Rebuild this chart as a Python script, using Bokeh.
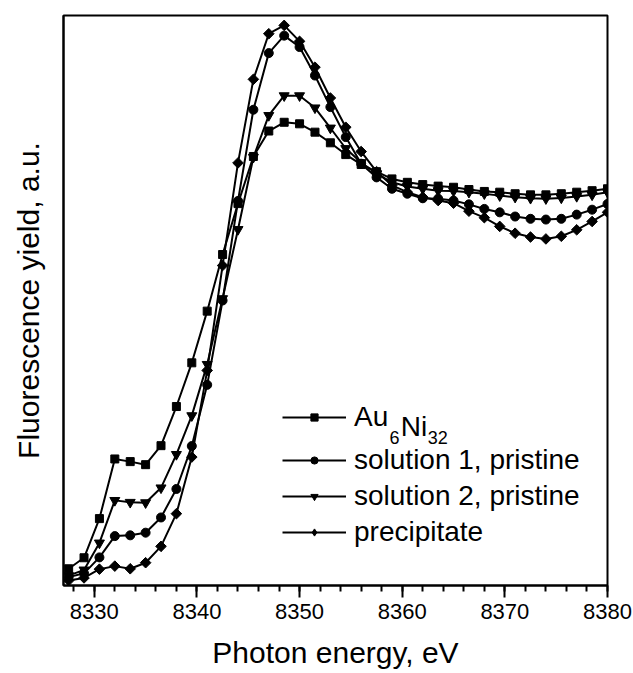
import math
from bokeh.plotting import figure
from bokeh.models import (ColumnDataSource, Range1d, FixedTicker, Legend, LegendItem, Label)
from bokeh.embed import file_html
from bokeh.resources import INLINE

energy = [8327.5, 8329.0, 8330.5, 8332.0, 8333.5, 8335.0, 8336.5, 8338.0, 8339.5, 8341.0,
          8342.5, 8344.0, 8345.5, 8347.0, 8348.5, 8350.0, 8351.5, 8353.0, 8354.5, 8356.0,
          8357.5, 8359.0, 8360.5, 8362.0, 8363.5, 8365.0, 8366.5, 8368.0, 8369.5, 8371.0,
          8372.5, 8374.0, 8375.5, 8377.0, 8378.5, 8380.0]

au6ni32 = [0.044, 0.073, 0.176, 0.333, 0.326, 0.318, 0.368, 0.471, 0.586, 0.722,
           0.871, 1.005, 1.129, 1.196, 1.219, 1.215, 1.193, 1.165, 1.134, 1.108,
           1.089, 1.070, 1.061, 1.055, 1.051, 1.048, 1.042, 1.037, 1.035, 1.031,
           1.028, 1.028, 1.031, 1.035, 1.039, 1.044]

solution1 = [0.022, 0.032, 0.074, 0.130, 0.132, 0.139, 0.179, 0.254, 0.367, 0.528,
             0.750, 1.012, 1.252, 1.401, 1.447, 1.417, 1.342, 1.259, 1.180, 1.110,
             1.074, 1.044, 1.031, 1.019, 1.018, 1.013, 1.003, 0.991, 0.982, 0.971,
             0.965, 0.963, 0.965, 0.976, 0.989, 1.004]

solution2 = [0.026, 0.041, 0.112, 0.224, 0.219, 0.218, 0.257, 0.345, 0.447, 0.582,
             0.755, 0.937, 1.127, 1.237, 1.289, 1.289, 1.257, 1.204, 1.150, 1.113,
             1.084, 1.061, 1.050, 1.044, 1.039, 1.038, 1.035, 1.031, 1.026, 1.022,
             1.019, 1.018, 1.020, 1.024, 1.028, 1.035]

precipitate = [0.013, 0.020, 0.043, 0.051, 0.044, 0.060, 0.103, 0.189, 0.338, 0.566,
               0.842, 1.112, 1.332, 1.452, 1.474, 1.432, 1.364, 1.283, 1.206, 1.142,
               1.089, 1.053, 1.035, 1.022, 1.013, 1.006, 0.985, 0.968, 0.945, 0.927,
               0.917, 0.912, 0.919, 0.936, 0.958, 0.982]

x_ticks = [8330, 8340, 8350, 8360, 8370, 8380]
series_labels = ["Au", "solution 1, pristine", "solution 2, pristine", "precipitate"]

FONT = "Liberation Sans"

p = figure(width=633, height=673, output_backend="svg", toolbar_location=None,
           x_range=Range1d(8327, 8380), y_range=Range1d(0, 1.5),
           min_border_left=63, min_border_right=26, min_border_top=15, min_border_bottom=88)
p.background_fill_color = "white"
p.border_fill_color = "white"
p.grid.visible = False
p.outline_line_color = "black"
p.outline_line_width = 2

xa = p.xaxis[0]
xa.ticker = FixedTicker(ticks=x_ticks, minor_ticks=[8328 + 2 * k for k in range(27)])
xa.major_tick_out = 12
xa.major_tick_in = 0
xa.minor_tick_out = 6
xa.minor_tick_in = 0
xa.major_tick_line_width = 2
xa.minor_tick_line_width = 2
xa.axis_line_width = 2
xa.major_label_text_font = FONT
xa.major_label_text_font_size = "22px"
xa.major_label_text_color = "black"
xa.major_label_standoff = 6
xa.axis_label = "Photon energy, eV"
xa.axis_label_text_font = FONT
xa.axis_label_text_font_size = "30px"
xa.axis_label_text_font_style = "normal"
xa.axis_label_text_color = "black"
xa.axis_label_standoff = 14

ya = p.yaxis[0]
ya.ticker = FixedTicker(ticks=[])
ya.major_tick_out = 0
ya.minor_tick_out = 0
ya.axis_line_width = 2
ya.axis_label = "Fluorescence yield, a.u."
ya.axis_label_text_font = FONT
ya.axis_label_text_font_size = "30px"
ya.axis_label_text_font_style = "normal"
ya.axis_label_text_color = "black"
ya.axis_label_standoff = 19

src = ColumnDataSource(dict(x=energy, au=au6ni32, s1=solution1, s2=solution2, pr=precipitate))

specs = [("au", "square", 8, 0.0, "square"), ("s1", "circle", 9, 0.0, "circle"),
         ("s2", "inverted_triangle", 10, 0.0, "inverted_triangle"),
         ("pr", "square", 7.5, math.pi / 4, "diamond")]
items = []
for (col, marker, size, ang, leg_marker), lab in zip(specs, series_labels):
    lr = p.line("x", col, source=src, line_color="black", line_width=2)
    sr = p.scatter("x", col, source=src, marker=marker, size=size, angle=ang,
                   fill_color="black", line_color="black")
    if leg_marker != marker:
        # legend-only glyph (zero size in the plot) so the key shows a diamond
        gr = p.scatter("x", col, source=src, marker=leg_marker, size=0,
                       fill_color="black", line_color="black")
        items.append(LegendItem(label=lab, renderers=[lr, gr]))
    else:
        items.append(LegendItem(label=lab, renderers=[lr, sr]))

def make_legend(its, loc):
    lg = Legend(items=its, location=loc)
    lg.padding = 0
    lg.margin = 0
    lg.border_line_alpha = 0
    lg.background_fill_alpha = 0
    lg.glyph_width = 64
    lg.glyph_height = 18
    lg.label_height = 32
    lg.label_standoff = 8
    lg.spacing = 4
    lg.label_text_font = FONT
    lg.label_text_font_size = "28px"
    lg.label_text_color = "black"
    return lg

p.add_layout(make_legend(items[:1], (219, 152)), "center")
p.add_layout(make_legend(items[1:], (219, 37)), "center")

for txt, xx, yy, fs in [("6", 8358.77, 0.389, "18px"), ("Ni", 8359.85, 0.418, "28px"), ("32", 8362.48, 0.389, "18px")]:
    p.add_layout(Label(x=xx, y=yy, text=txt, text_font=FONT, text_font_size=fs,
                       text_color="black", text_baseline="alphabetic", text_align="left"))

open("out.html", "w").write(file_html(p, INLINE))
